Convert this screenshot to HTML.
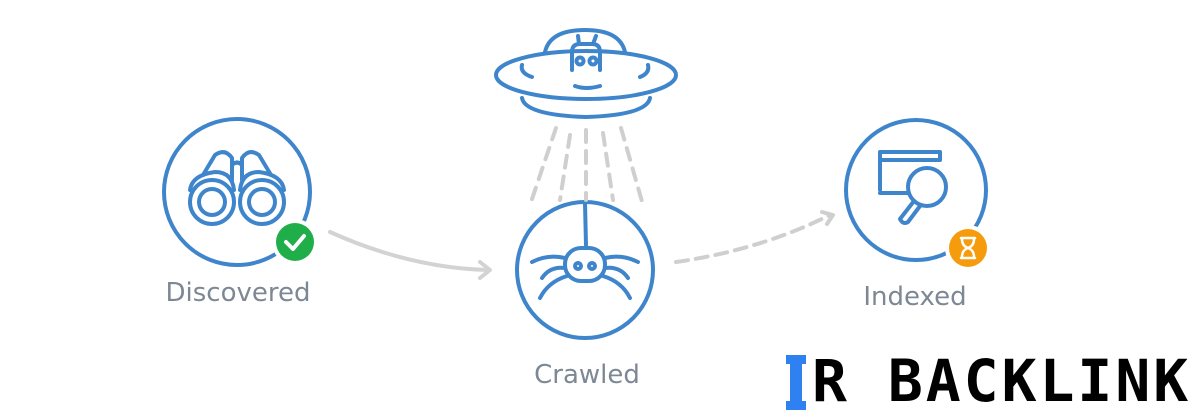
<!DOCTYPE html>
<html><head><style>
body{margin:0;width:1200px;height:420px;background:#fff;overflow:hidden;position:relative;font-family:"Liberation Sans",sans-serif}
.lbl{position:absolute;color:#7d8894;font-family:"DejaVu Sans","Liberation Sans",sans-serif;font-size:26px;transform:translateX(-50%);white-space:nowrap}
.logo{position:absolute;left:812px;top:350px;font:900 58px "DejaVu Sans Mono","Liberation Mono",monospace;color:#000;letter-spacing:3px;line-height:62px;white-space:nowrap}
</style></head><body>
<svg width="1200" height="420" style="position:absolute;left:0;top:0" fill="none" stroke-linecap="round" stroke-linejoin="round">
<g stroke="#3f85cc" stroke-width="4">
<circle cx="237" cy="192" r="73"/>
<path d="M203 175 L215 155 Q225 148 232 158 L232 180 M271 175 L259 155 Q249 148 242 158 L242 180 M232 165 Q237 160 242 165"/>
<path d="M190 190 Q192 175 215 172 Q232 172 234 190 M284 190 Q282 175 259 172 Q242 172 240 190"/>
<circle cx="212" cy="202" r="22"/><circle cx="212" cy="202" r="13"/>
<circle cx="262" cy="202" r="22"/><circle cx="262" cy="202" r="13"/>
<path d="M545 52 Q550 30 585 30 Q620 30 625 52"/>
<ellipse cx="586" cy="75" rx="90" ry="24"/>
<path d="M522 98 Q525 115 586 117 Q647 115 650 98"/>
<path d="M522 65 Q520 73 532 77 M648 65 Q650 73 640 77 M575 86 Q586 90 600 86"/>
<path d="M572 70 L572 52 Q572 44 580 44 L592 44 Q600 44 600 52 L600 70 M579 44 L578 36 M593 44 L596 36"/>
<circle cx="580" cy="61" r="3.5"/><circle cx="593" cy="61" r="3.5"/>
<circle cx="585" cy="270" r="68"/>
<path d="M585 203 L586 245"/>
<rect x="565" y="248" width="40" height="33" rx="16"/>
<circle cx="578" cy="266" r="3"/><circle cx="592" cy="266" r="3"/>
<path d="M565 258 Q548 254 532 262 M565 268 Q550 266 542 278 M567 276 Q548 282 540 298 M605 258 Q622 254 638 262 M605 268 Q620 266 628 278 M603 276 Q622 282 630 298"/>
<circle cx="916" cy="190" r="70"/>
<path d="M880 190 L880 152 L940 152 L940 160 M880 160 L940 160 M880 193 L908 193"/>
<circle cx="927" cy="187" r="19"/>
<path d="M914 201 L900 219 Q903 225 908 222 L920 206"/>
</g>
<g stroke="#cfcfcf" stroke-width="4" stroke-dasharray="12 9">
<path d="M556 128 L530 205 M570 135 L560 200 M586 130 L586 200 M603 133 L613 200 M621 128 L643 205"/>
<path d="M676 262 Q760 250 830 215" stroke-dasharray="12 8"/>
</g>
<path d="M822 212 L833 215 L827 224" stroke="#cfcfcf" stroke-width="4"/>
<path d="M330 232 Q410 268 488 270" stroke="#d3d3d3" stroke-width="4"/>
<path d="M480 262 L490 270 L480 278" stroke="#d3d3d3" stroke-width="4"/>
<circle cx="295" cy="242" r="23" fill="#fff"/>
<circle cx="295" cy="242" r="19" fill="#1fae49"/>
<path d="M286 242 L293 249 L304 236" stroke="#fff" stroke-width="4"/>
<circle cx="968" cy="248" r="23" fill="#fff"/>
<circle cx="968" cy="248" r="19" fill="#f59b0c"/>
<path d="M961 238 L975 238 M961 258 L975 258 M962 239 Q962 246 968 248 Q974 246 974 239 M962 257 Q962 250 968 248 Q974 250 974 257" stroke="#fff" stroke-width="2.5"/>
<rect x="790" y="355" width="12" height="55" fill="#2f80f0"/>
<rect x="786" y="355" width="20" height="9" fill="#2f80f0"/>
<rect x="786" y="401" width="20" height="9" fill="#2f80f0"/>
</svg>
<div class="lbl" style="left:238px;top:278px">Discovered</div>
<div class="lbl" style="left:587px;top:360px">Crawled</div>
<div class="lbl" style="left:915px;top:282px">Indexed</div>
<div class="logo">R BACKLINK</div>
</body></html>
